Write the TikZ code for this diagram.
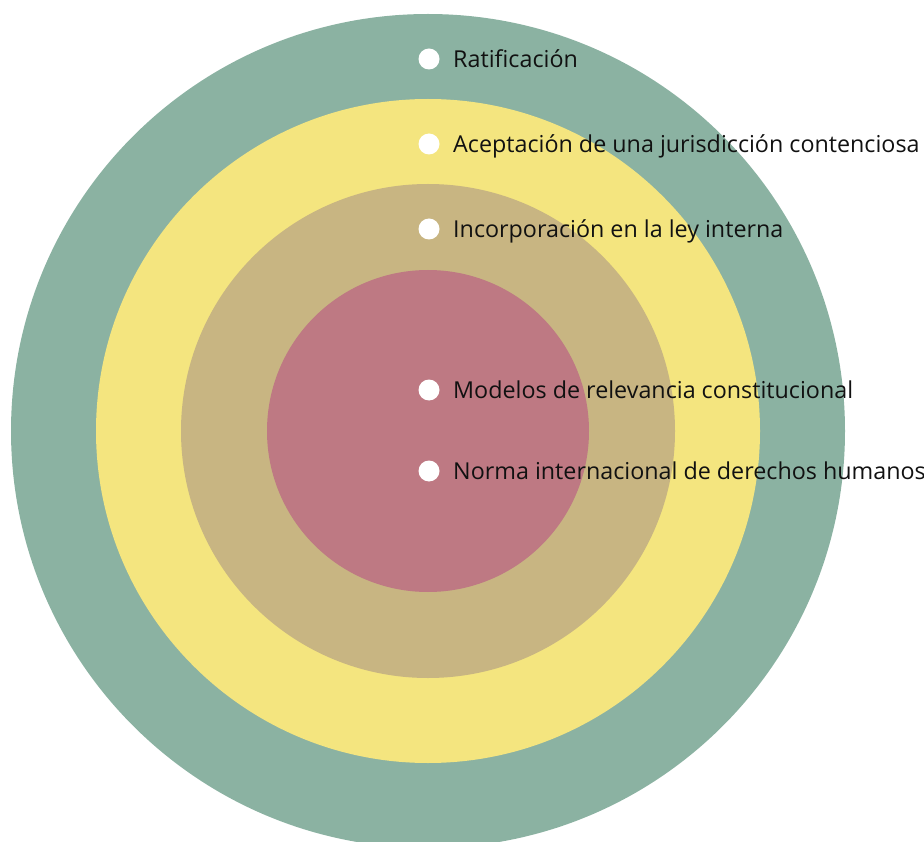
\documentclass[tikz,border=0pt]{standalone}
\usepackage{fontspec}
\setmainfont{Open Sans}
\definecolor{ringgreen}{HTML}{8BB2A2}
\definecolor{ringyellow}{HTML}{F4E57F}
\definecolor{ringtan}{HTML}{C8B582}
\definecolor{ringpink}{HTML}{BE7983}
\definecolor{labeltext}{HTML}{111111}
\tikzset{
  ring/.style={draw=none},
  bullet/.style={circle, fill=white, draw=none, minimum size=21pt, inner sep=0pt},
  lbl/.style={anchor=base west, inner sep=0pt, text=labeltext, font=\fontsize{23.3pt}{27pt}\selectfont}
}
\begin{document}
\begin{tikzpicture}[x=1pt,y=-1pt]
\useasboundingbox (0,0) rectangle (924,842);
\begin{scope}
\clip (0,0) rectangle (924,842);
\fill[ring, ringgreen] (428,431) circle[radius=417];
\fill[ring, ringyellow] (428,431) circle[radius=332];
\fill[ring, ringtan] (428,431) circle[radius=247];
\fill[ring, ringpink] (428,431) circle[radius=161];
\end{scope}
\node[bullet] (d1) at (429,59) {};
\node[bullet] (d2) at (429,144) {};
\node[bullet] (d3) at (429,229) {};
\node[bullet] (d4) at (429,390) {};
\node[bullet] (d5) at (429,471) {};
\node[lbl] (t1) at (453,67.5) {Ratificación};
\node[lbl] (t2) at (453,152.5) {Aceptación de una jurisdicción contenciosa};
\node[lbl] (t3) at (453,237.5) {Incorporación en la ley interna};
\node[lbl] (t4) at (453,398.5) {Modelos de relevancia constitucional};
\node[lbl] (t5) at (453,479.5) {Norma internacional de derechos humanos};
\end{tikzpicture}
\end{document}
